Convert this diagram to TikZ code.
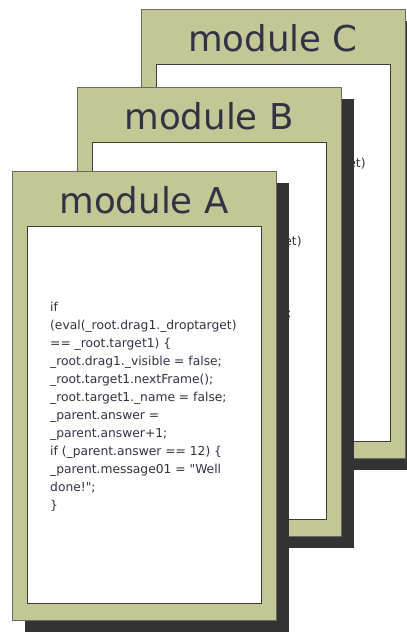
\documentclass[tikz,border=0pt]{standalone}
\usepackage{fontspec}
\setmainfont{DejaVu Sans}
\newfontfamily\codefont{DejaVu Sans}[Ligatures=TeXOff]
\definecolor{panelgreen}{RGB}{194,199,149}
\definecolor{paneledge}{RGB}{105,105,95}
\definecolor{shadowgray}{RGB}{51,51,51}
\definecolor{inneredge}{RGB}{60,60,60}
\definecolor{inktext}{RGB}{50,50,68}
\tikzset{
  shadowbox/.style={fill=shadowgray, draw=none, anchor=north west, inner sep=0pt, outer sep=0pt, minimum width=264pt, minimum height=449pt},
  greenbox/.style={fill=panelgreen, draw=paneledge, line width=0.8pt, anchor=north west, inner sep=0pt, outer sep=0pt, minimum width=264pt, minimum height=449pt},
  whitebox/.style={fill=white, draw=inneredge, line width=0.8pt, anchor=north west, inner sep=0pt, outer sep=0pt, minimum width=234pt, minimum height=377pt},
  titletext/.style={anchor=base, inner sep=0pt, text=inktext, font=\fontsize{35.6}{40}\selectfont},
  codetext/.style={anchor=north west, inner sep=0pt, align=left, text=inktext, font=\codefont\fontsize{12.3}{18}\selectfont}
}
\newcommand{\codebody}{if\\
(eval(\_root.drag1.\_droptarget)\\
== \_root.target1) \{\\
\_root.drag1.\_visible = false;\\
\_root.target1.nextFrame();\\
\_root.target1.\_name = false;\\
\_parent.answer =\\
\_parent.answer+1;\\
if (\_parent.answer == 12) \{\\
\_parent.message01 = "Well\\
done!";\\
\}}
\newcommand{\modulepanel}[4]{%
  \node[shadowbox] (#1shadow) at (#2+13,#3+12) {};
  \node[greenbox] (#1green) at (#2,#3) {};
  \node[whitebox] (#1inner) at (#2+15,#3+55) {};
  \node[titletext] (#1title) at (#2+132,#3+42) {module #4};
  \node[codetext] (#1code) at (#2+38,#3+130.5) {\codebody};
}
\begin{document}
\begin{tikzpicture}[x=1pt,y=-1pt]
\useasboundingbox (0,0) rectangle (407,632);
\modulepanel{C}{141}{9}{C}
\modulepanel{B}{77}{87}{B}
\modulepanel{A}{12}{171}{A}
\end{tikzpicture}
\end{document}
